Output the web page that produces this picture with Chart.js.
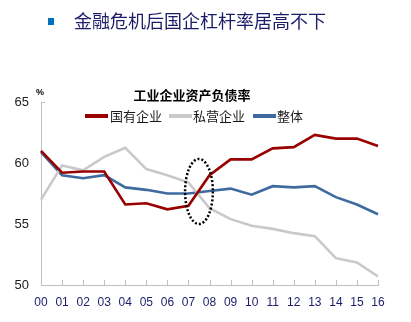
<!DOCTYPE html>
<html>
<head>
<meta charset="utf-8">
<script src="https://cdn.jsdelivr.net/npm/chart.js@4"></script>
<style>
  html, body { margin: 0; padding: 0; background: #fff; }
  #chart { display: block; }
</style>
</head>
<body>
<canvas id="chart" width="411" height="322"></canvas>
<script>
const years = ['00', '01', '02', '03', '04', '05', '06', '07', '08', '09', '10', '11', '12', '13', '14', '15', '16'];
const stateOwned = [61.0, 59.2, 59.3, 59.3, 56.6, 56.7, 56.2, 56.5, 59.0, 60.3, 60.3, 61.2, 61.3, 62.3, 62.0, 62.0, 61.4];
const privateCo = [57.0, 59.8, 59.4, 60.5, 61.25, 59.5, 59.0, 58.4, 56.3, 55.4, 54.85, 54.6, 54.25, 54.0, 52.2, 51.85, 50.7];
const overall = [60.9, 59.0, 58.75, 59.0, 58.0, 57.8, 57.5, 57.5, 57.7, 57.9, 57.4, 58.1, 58.0, 58.1, 57.2, 56.6, 55.8];
const seriesNames = ['国有企业', '私营企业', '整体'];
const yMin = 50, yMax = 65, yStep = 5;
// highlighted crisis window (between 07 and 08)
const crisisFrom = 7, crisisTo = 8, crisisLow = 55.0, crisisHigh = 60.33;

const colors = ['#990000', '#c9c9c9', '#3e6a9f'];
const cjk = '"Noto Sans CJK SC", sans-serif';

const decor = {
  id: 'decor',
  beforeDatasetsDraw(chart) {
    const { ctx, chartArea, scales } = chart;
    // tick marks pointing into the plot
    ctx.save();
    ctx.strokeStyle = '#bfbfbf';
    ctx.lineWidth = 1;
    ctx.beginPath();
    years.forEach((_, i) => {
      const x = Math.round(scales.x.getPixelForValue(i)) + 0.5;
      ctx.moveTo(x, chartArea.bottom);
      ctx.lineTo(x, chartArea.bottom - 5);
    });
    const yt = Math.round(scales.y.getPixelForValue(yMax)) + 0.5;
    ctx.moveTo(chartArea.left, yt);
    ctx.lineTo(chartArea.left + 4, yt);
    ctx.stroke();
    ctx.restore();
  },
  afterDatasetsDraw(chart) {
    const { ctx, scales } = chart;
    ctx.save();
    // header
    ctx.fillStyle = '#0070c0';
    ctx.fillRect(48, 18, 6, 7);
    ctx.fillStyle = '#1c1c68';
    ctx.font = '18px ' + cjk;
    ctx.textBaseline = 'middle';
    ctx.textAlign = 'left';
    ctx.fillText('金融危机后国企杠杆率居高不下', 74, 21);

    // chart title
    ctx.fillStyle = '#000';
    ctx.font = 'bold 13px ' + cjk;
    ctx.textAlign = 'center';
    ctx.fillText('工业企业资产负债率', 192, 95);

    // unit
    ctx.font = 'bold 9px "Liberation Sans", Arial, sans-serif';
    ctx.fillText('%', 40, 93);

    // legend
    const legendY = 116;
    const items = [[85, 110], [169, 193], [253, 277]];
    ctx.textAlign = 'left';
    ctx.font = '13px ' + cjk;
    items.forEach(([lx, tx], i) => {
      ctx.strokeStyle = colors[i];
      ctx.lineWidth = 4;
      ctx.beginPath();
      ctx.moveTo(lx, legendY);
      ctx.lineTo(lx + 23, legendY);
      ctx.stroke();
      ctx.fillStyle = '#1a1a1a';
      ctx.fillText(seriesNames[i], tx, legendY);
    });

    // dotted ellipse around the crisis
    const x0 = scales.x.getPixelForValue(crisisFrom);
    const x1 = scales.x.getPixelForValue(crisisTo);
    const yTop = scales.y.getPixelForValue(crisisHigh);
    const yBot = scales.y.getPixelForValue(crisisLow);
    ctx.strokeStyle = '#000';
    ctx.lineWidth = 2.5;
    ctx.lineCap = 'butt';
    ctx.setLineDash([2, 2]);
    ctx.beginPath();
    ctx.ellipse((x0 + x1) / 2, (yTop + yBot) / 2, (x1 - x0) * 0.66, (yBot - yTop) / 2, 0, 0, Math.PI * 2);
    ctx.stroke();
    ctx.restore();
  }
};

new Chart(document.getElementById('chart'), {
  type: 'line',
  data: {
    labels: years,
    datasets: [stateOwned, privateCo, overall].map((d, i) => ({
      label: seriesNames[i],
      data: d,
      borderColor: colors[i],
      backgroundColor: colors[i],
      borderWidth: 2.6,
      pointRadius: 0,
      tension: 0
    }))
  },
  options: {
    responsive: false,
    animation: false,
    layout: { padding: { top: 102, right: 33, left: 0, bottom: 0 } },
    plugins: {
      legend: { display: false },
      title: { display: false },
      tooltip: { enabled: false }
    },
    scales: {
      x: {
        offset: false,
        grid: { display: false, drawTicks: false },
        border: { color: '#bfbfbf', width: 1 },
        ticks: {
          color: '#1c1c68',
          padding: 10,
          maxRotation: 0,
          autoSkip: false,
          font: { size: 12, family: '"Liberation Sans", Arial, sans-serif' }
        },
        afterFit(scale) { scale.height = 37; }
      },
      y: {
        min: yMin,
        max: yMax,
        grid: { display: false, drawTicks: false },
        border: { color: '#bfbfbf', width: 1 },
        ticks: {
          stepSize: yStep,
          color: '#1a1a1a',
          padding: 12,
          font: { size: 13, family: '"Liberation Sans", Arial, sans-serif' }
        },
        afterFit(scale) { scale.width = 41; }
      }
    }
  },
  plugins: [decor]
});
</script>
</body>
</html>
